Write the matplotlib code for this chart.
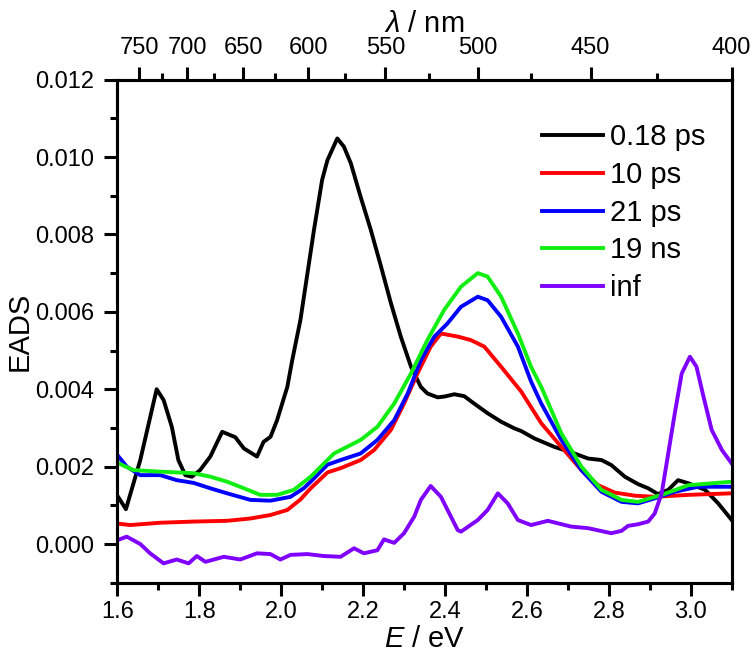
#
########################################################################
# Bibliotecas
########################################################################
#
import numpy as np
import matplotlib
matplotlib.use("Agg")
import matplotlib.pyplot as plt
from matplotlib.ticker import MultipleLocator, FixedLocator, NullFormatter

plt.rcParams["font.family"] = ["Liberation Sans", "DejaVu Sans"]
plt.rcParams["mathtext.fontset"] = "custom"
plt.rcParams["mathtext.it"] = "Liberation Sans:italic"
plt.rcParams["mathtext.rm"] = "Liberation Sans"

#
########################################################################
# Dados (EADS em unidades de 1e-3)
########################################################################
#
eBlack = [1.600, 1.621, 1.656, 1.696, 1.713, 1.733, 1.749, 1.766, 1.782, 1.802,
          1.827, 1.856, 1.888, 1.909, 1.941, 1.957, 1.974, 1.990, 2.015, 2.027,
          2.047, 2.080, 2.100, 2.113, 2.137, 2.153, 2.170, 2.194, 2.219, 2.243,
          2.268, 2.292, 2.317, 2.341, 2.357, 2.382, 2.398, 2.423, 2.447, 2.471,
          2.504, 2.537, 2.569, 2.586, 2.618, 2.667, 2.716, 2.749, 2.782, 2.806,
          2.839, 2.871, 2.896, 2.920, 2.945, 2.969, 2.994, 3.035, 3.067, 3.100]
vBlack = [1.25, 0.90, 2.17, 4.00, 3.72, 3.03, 2.17, 1.78, 1.74, 1.91,
          2.26, 2.90, 2.76, 2.47, 2.26, 2.64, 2.77, 3.20, 4.06, 4.75,
          5.79, 8.11, 9.41, 9.92, 10.48, 10.27, 9.84, 8.97, 8.11, 7.20,
          6.22, 5.36, 4.58, 4.06, 3.89, 3.79, 3.81, 3.87, 3.82, 3.63,
          3.38, 3.16, 2.99, 2.92, 2.73, 2.51, 2.34, 2.21, 2.17, 2.04,
          1.74, 1.55, 1.44, 1.29, 1.40, 1.65, 1.57, 1.40, 1.05, 0.62]

eRed = [1.600, 1.631, 1.705, 1.786, 1.868, 1.925, 1.974, 2.015, 2.047, 2.072,
        2.113, 2.145, 2.194, 2.227, 2.268, 2.300, 2.333, 2.365, 2.390, 2.431,
        2.463, 2.496, 2.537, 2.586, 2.635, 2.684, 2.733, 2.774, 2.814, 2.863,
        2.912, 2.994, 3.100]
vRed = [0.53, 0.49, 0.55, 0.58, 0.60, 0.66, 0.75, 0.88, 1.15, 1.44,
        1.85, 1.96, 2.17, 2.43, 2.95, 3.63, 4.41, 5.10, 5.44, 5.36,
        5.27, 5.10, 4.58, 3.94, 3.12, 2.51, 1.91, 1.52, 1.33, 1.25,
        1.22, 1.27, 1.31]

eBlue = [1.600, 1.623, 1.656, 1.705, 1.745, 1.786, 1.827, 1.868, 1.925, 1.974,
         2.023, 2.055, 2.072, 2.113, 2.145, 2.194, 2.235, 2.276, 2.309, 2.341,
         2.374, 2.406, 2.439, 2.480, 2.504, 2.537, 2.578, 2.610, 2.635, 2.684,
         2.733, 2.782, 2.831, 2.871, 2.912, 2.961, 3.018, 3.100]
vBlue = [2.30, 2.00, 1.78, 1.78, 1.65, 1.58, 1.44, 1.31, 1.14, 1.12,
         1.22, 1.44, 1.61, 2.05, 2.17, 2.34, 2.69, 3.20, 3.89, 4.75,
         5.36, 5.70, 6.13, 6.39, 6.30, 5.87, 5.10, 4.20, 3.63, 2.69,
         1.91, 1.35, 1.09, 1.05, 1.18, 1.35, 1.48, 1.48]

eGreen = [1.600, 1.639, 1.705, 1.786, 1.827, 1.868, 1.909, 1.949, 1.990, 2.031,
          2.072, 2.129, 2.194, 2.235, 2.276, 2.317, 2.357, 2.398, 2.439, 2.480,
          2.504, 2.537, 2.578, 2.610, 2.635, 2.684, 2.733, 2.782, 2.831, 2.871,
          2.929, 2.994, 3.100]
vGreen = [2.10, 1.91, 1.87, 1.83, 1.74, 1.61, 1.44, 1.27, 1.27, 1.40,
          1.74, 2.34, 2.69, 3.03, 3.63, 4.41, 5.27, 6.05, 6.65, 7.00,
          6.91, 6.39, 5.44, 4.58, 4.06, 2.86, 2.00, 1.40, 1.14, 1.09,
          1.27, 1.52, 1.61]

ePurple = [1.600, 1.623, 1.656, 1.680, 1.713, 1.745, 1.774, 1.794, 1.815, 1.860,
           1.900, 1.941, 1.974, 1.998, 2.023, 2.064, 2.104, 2.145, 2.178, 2.202,
           2.235, 2.251, 2.276, 2.300, 2.325, 2.341, 2.365, 2.390, 2.431, 2.439,
           2.480, 2.504, 2.529, 2.553, 2.578, 2.610, 2.651, 2.708, 2.749, 2.806,
           2.831, 2.847, 2.871, 2.896, 2.912, 2.929, 2.945, 2.961, 2.978, 2.998,
           3.014, 3.031, 3.051, 3.076, 3.100]
vPurple = [0.10, 0.19, 0.00, -0.24, -0.50, -0.40, -0.50, -0.31, -0.46, -0.33,
           -0.40, -0.24, -0.26, -0.40, -0.28, -0.26, -0.31, -0.33, -0.11, -0.24,
           -0.16, 0.12, 0.03, 0.28, 0.71, 1.14, 1.50, 1.22, 0.36, 0.32,
           0.62, 0.88, 1.31, 1.05, 0.62, 0.49, 0.60, 0.45, 0.41, 0.28,
           0.34, 0.47, 0.51, 0.58, 0.79, 1.31, 2.34, 3.38, 4.41, 4.84,
           4.58, 3.81, 2.95, 2.43, 2.08]

seriesLabels = ["0.18 ps", "10 ps", "21 ps", "19 ns", "inf"]
seriesColors = ["#000000", "#ff0000", "#0000ff", "#11ee11", "#7f00ff"]

lambdaMajor = [750, 700, 650, 600, 550, 500, 450, 400]
lambdaMinor = [725, 675, 625, 575, 525, 475, 425]

#
########################################################################
# Figura
########################################################################
#
fig = plt.figure(figsize=(7.56, 6.58), dpi=100)
ax = fig.add_axes([0.1552, 0.1144, 0.8127, 0.7646])

allE = [eBlack, eRed, eBlue, eGreen, ePurple]
allV = [vBlack, vRed, vBlue, vGreen, vPurple]
for e, v, lab, cor in zip(allE, allV, seriesLabels, seriesColors):
    ax.plot(e, np.array(v) * 1e-3, color=cor, lw=2.8, label=lab)

ax.set_xlim(1.6, 3.1)
ax.set_ylim(-0.001, 0.012)

ax.xaxis.set_major_locator(MultipleLocator(0.2))
ax.xaxis.set_minor_locator(MultipleLocator(0.1))
ax.yaxis.set_major_locator(MultipleLocator(0.002))
ax.yaxis.set_minor_locator(MultipleLocator(0.001))
ax.xaxis.set_major_formatter(plt.FuncFormatter(lambda x, p: f"{x:.1f}"))
ax.yaxis.set_major_formatter(plt.FuncFormatter(lambda y, p: f"{y:.3f}"))

for s in ax.spines.values():
    s.set_linewidth(2.2)
ax.tick_params(which="major", direction="out", length=9.5, width=2.2,
               labelsize=17, top=False, right=False)
ax.tick_params(axis="x", which="major", pad=4)
ax.tick_params(axis="y", which="major", pad=7)
ax.tick_params(which="minor", direction="out", length=5, width=2.2,
               top=False, right=False)

ax.set_xlabel(r"$\it{E}$ / eV", fontsize=21, labelpad=1)
ax.set_ylabel("EADS", fontsize=21, labelpad=1)

#
########################################################################
# Eixo Superior (comprimento de onda)
########################################################################
#
axTop = ax.twiny()
axTop.set_xlim(ax.get_xlim())
axTop.xaxis.set_major_locator(FixedLocator([1239.84 / l for l in lambdaMajor]))
axTop.xaxis.set_minor_locator(FixedLocator([1239.84 / l for l in lambdaMinor]))
axTop.set_xticklabels([str(l) for l in lambdaMajor])
axTop.xaxis.set_minor_formatter(NullFormatter())
axTop.tick_params(which="major", direction="out", length=9.5, width=2.2,
                  labelsize=17, pad=5)
axTop.tick_params(which="minor", direction="out", length=5, width=2.2)
for s in axTop.spines.values():
    s.set_linewidth(2.2)
axTop.set_xlabel(r"$\it{\lambda}$ / nm", fontsize=21, labelpad=4)

#
########################################################################
# Legenda
########################################################################
#
ax.legend(loc="upper right", bbox_to_anchor=(1.0, 0.965), frameon=False,
          fontsize=21, handlelength=2.1, handletextpad=0.25, labelspacing=0.33)

fig.savefig("out.png", dpi=100)
